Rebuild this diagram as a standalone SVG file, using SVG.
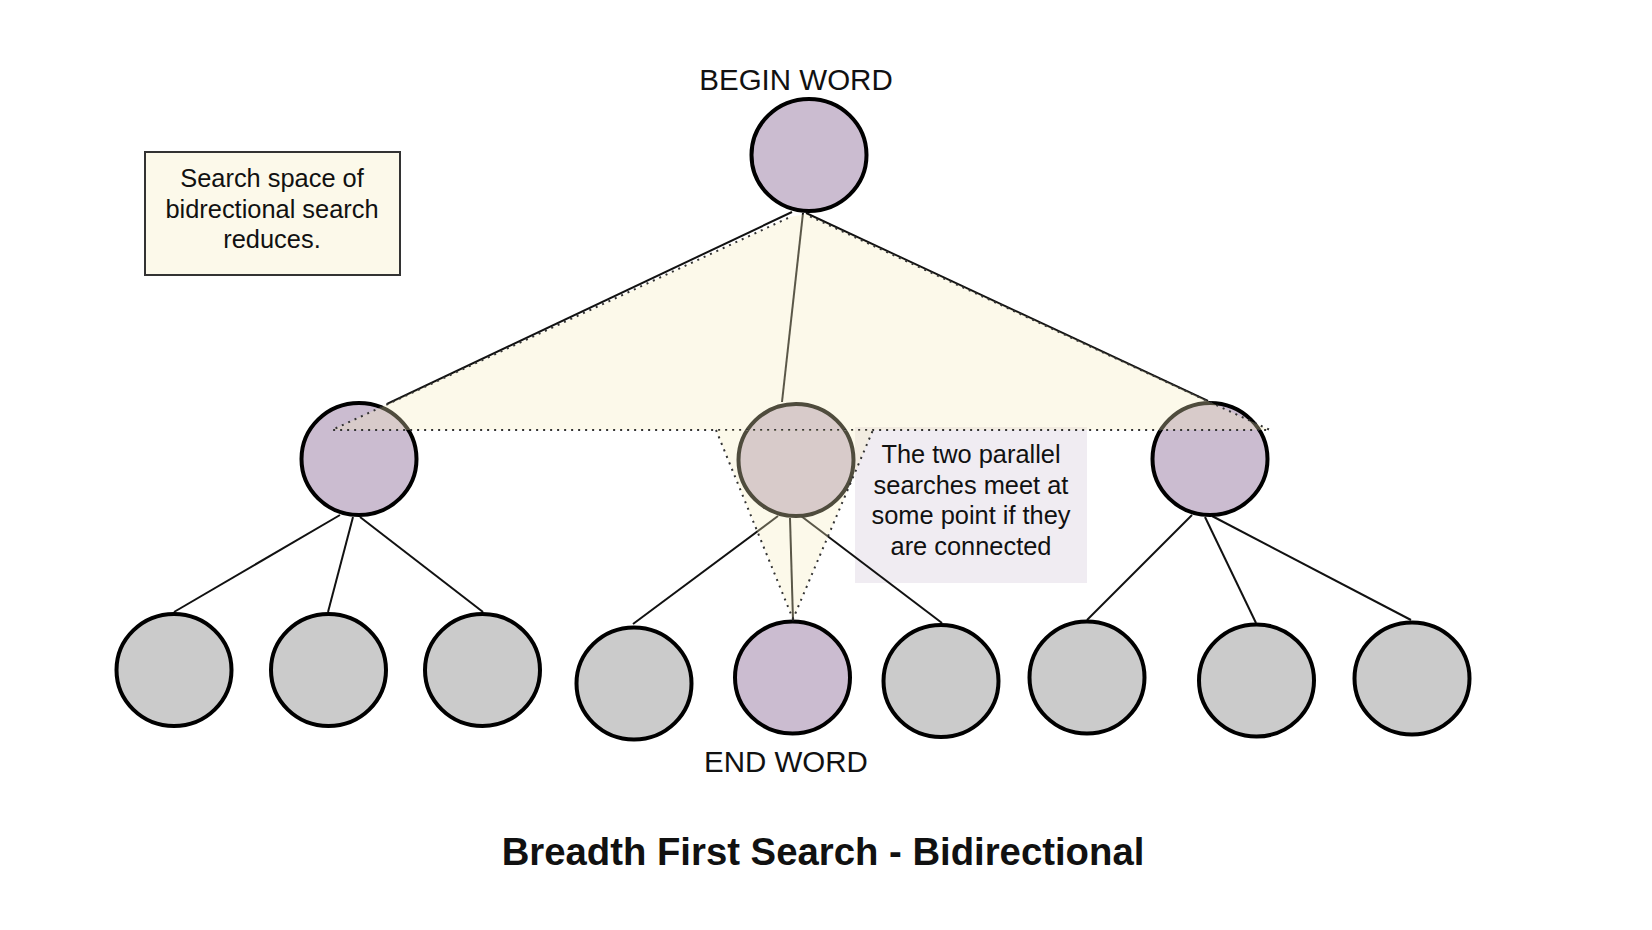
<svg xmlns="http://www.w3.org/2000/svg" width="1652" height="930" viewBox="0 0 1652 930">
<style>
  .lbl { font-family: "Liberation Sans", Arial, sans-serif; fill: #111; text-anchor: middle; }
  .big { font-size: 29.5px; }
  .note { font-size: 25.4px; }
  .title { font-size: 38.3px; font-weight: bold; }
  .edge { stroke: #111; stroke-width: 2; fill: none; }
  .node { stroke: #000; stroke-width: 4; }
  .purple { fill: #cbbcd0; }
  .grey { fill: #cbcbcb; }
  .overlay { fill: rgb(246,236,190); fill-opacity: 0.32; stroke: none; }
  .dots { fill: none; stroke: #333; stroke-width: 2; stroke-dasharray: 2 5; }
</style>
<rect width="1652" height="930" fill="#ffffff"/>

<g id="note-search-space">
  <rect x="145" y="152" width="255" height="123" fill="#fcf9ea" stroke="#333" stroke-width="2"/>
  <text class="lbl note" x="272" y="187">Search space of</text>
  <text class="lbl note" x="272" y="217.5">bidrectional search</text>
  <text class="lbl note" x="272" y="248">reduces.</text>
</g>

<g id="note-meet">
  <rect x="855" y="427" width="232" height="156" fill="#f0ecf2"/>
  <text class="lbl note" x="971" y="463">The two parallel</text>
  <text class="lbl note" x="971" y="493.5">searches meet at</text>
  <text class="lbl note" x="971" y="524">some point if they</text>
  <text class="lbl note" x="971" y="555">are connected</text>
</g>

<g id="connectors">
  <line class="edge" x1="792" y1="212" x2="387" y2="404"/>
  <line class="edge" x1="803" y1="213" x2="782" y2="402"/>
  <line class="edge" x1="806" y1="213" x2="1208" y2="401"/>
  <line class="edge" x1="340" y1="515" x2="174" y2="612"/>
  <line class="edge" x1="353" y1="517" x2="328" y2="612"/>
  <line class="edge" x1="360" y1="517" x2="483" y2="612"/>
  <line class="edge" x1="778" y1="516" x2="633" y2="624"/>
  <line class="edge" x1="790" y1="518" x2="793" y2="620"/>
  <line class="edge" x1="801" y1="516" x2="942" y2="623"/>
  <line class="edge" x1="1192" y1="515" x2="1087" y2="620"/>
  <line class="edge" x1="1205" y1="517" x2="1256" y2="623"/>
  <line class="edge" x1="1212" y1="516" x2="1411" y2="620"/>
</g>

<g id="node-begin">
  <ellipse class="node purple" cx="809" cy="155" rx="57.5" ry="56"/>
  <text class="lbl big" x="796" y="90">BEGIN WORD</text>
</g>
<g id="node-l1"><ellipse class="node purple" cx="359" cy="459" rx="57.5" ry="56"/></g>
<g id="node-m1"><ellipse class="node purple" cx="796" cy="460" rx="57.5" ry="56"/></g>
<g id="node-r1"><ellipse class="node purple" cx="1210" cy="459" rx="57.5" ry="56"/></g>

<g id="node-b1"><ellipse class="node grey" cx="174" cy="670" rx="57.5" ry="56"/></g>
<g id="node-b2"><ellipse class="node grey" cx="328.5" cy="670" rx="57.5" ry="56"/></g>
<g id="node-b3"><ellipse class="node grey" cx="482.5" cy="670" rx="57.5" ry="56"/></g>
<g id="node-b4"><ellipse class="node grey" cx="634" cy="683.5" rx="57.5" ry="56"/></g>
<g id="node-end">
  <ellipse class="node purple" cx="792.5" cy="677.5" rx="57.5" ry="56"/>
  <text class="lbl big" x="786" y="772">END WORD</text>
</g>
<g id="node-b6"><ellipse class="node grey" cx="941" cy="681" rx="57.5" ry="56"/></g>
<g id="node-b7"><ellipse class="node grey" cx="1087" cy="677.5" rx="57.5" ry="56"/></g>
<g id="node-b8"><ellipse class="node grey" cx="1256.5" cy="680.5" rx="57.5" ry="56"/></g>
<g id="node-b9"><ellipse class="node grey" cx="1412" cy="678.5" rx="57.5" ry="56"/></g>

<g id="search-space-top">
  <polygon class="overlay" points="790,217 806,214 1270,430 332,430"/>
  <polyline class="dots" points="788,218 332,430 1270,430 807,215"/>
</g>
<g id="search-space-bottom">
  <polygon class="overlay" points="716,430 873,430 793,619"/>
  <polyline class="dots" points="716,430 793,619 873,430"/>
</g>

<g id="title">
  <text class="lbl title" x="823" y="865">Breadth First Search - Bidirectional</text>
</g>
</svg>
